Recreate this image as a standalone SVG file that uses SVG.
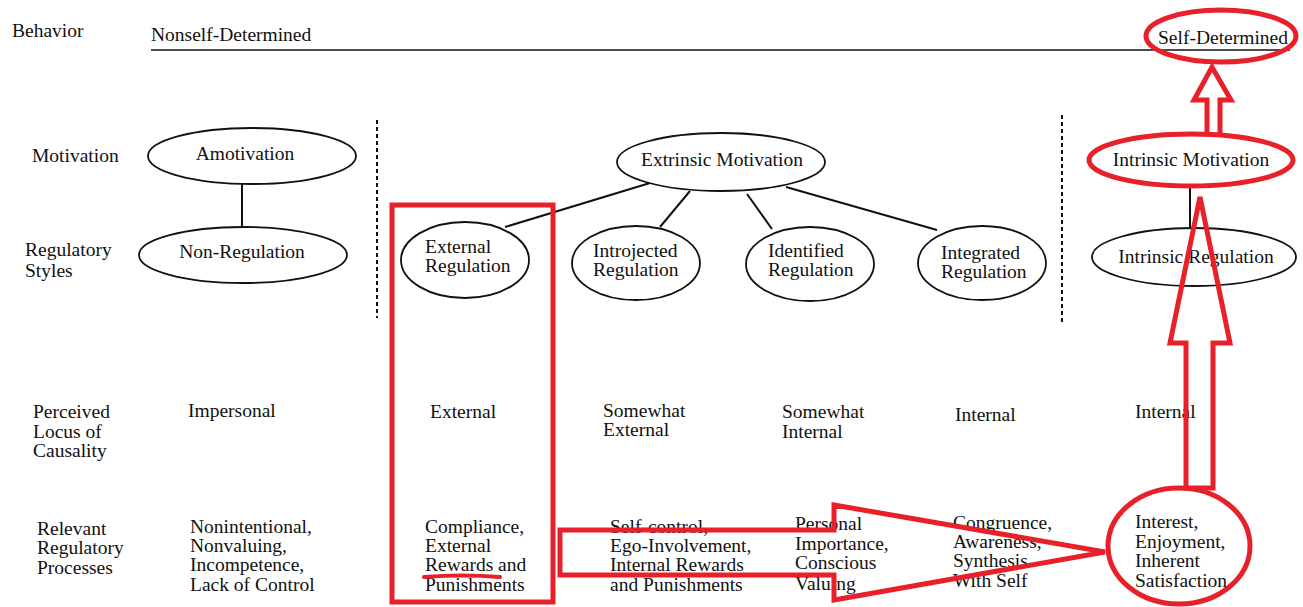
<svg xmlns="http://www.w3.org/2000/svg" width="1303" height="607" viewBox="0 0 1303 607">
  <style>
    text { font-family: "Liberation Serif", "Times New Roman", serif; font-size: 19.5px; fill: #111; }
    .c { text-anchor: middle; }
    .node { fill: #fff; stroke: #111; stroke-width: 1.8; }
    .link { stroke: #111; stroke-width: 2; fill: none; }
    .dash { stroke: #111; stroke-width: 2; stroke-dasharray: 4 3; fill: none; }
    .hl { fill: none; stroke: #e8202a; stroke-width: 5; stroke-linejoin: miter; }
  </style>

  <!-- row headings -->
  <g id="headings">
    <text x="12" y="37">Behavior</text>
    <text x="32" y="162">Motivation</text>
    <text x="25" y="256">Regulatory</text>
    <text x="25" y="277">Styles</text>
    <text x="33" y="418">Perceived</text>
    <text x="33" y="438">Locus of</text>
    <text x="33" y="457">Causality</text>
    <text x="37" y="535">Relevant</text>
    <text x="37" y="554">Regulatory</text>
    <text x="37" y="574">Processes</text>
  </g>

  <!-- behaviour continuum -->
  <g id="continuum">
    <text x="151" y="41" font-size="20">Nonself-Determined</text>
    <line x1="151" y1="50" x2="1290" y2="50" stroke="#111" stroke-width="1.6"/>
    <text class="c" x="1223" y="44">Self-Determined</text>
  </g>

  <!-- section dividers -->
  <g id="dividers">
    <line class="dash" x1="377" y1="120" x2="377" y2="318"/>
    <line class="dash" x1="1062" y1="115" x2="1062" y2="324"/>
  </g>

  <!-- connectors -->
  <g id="connectors">
    <line class="link" x1="242" y1="184" x2="242" y2="227"/>
    <line class="link" x1="650" y1="183" x2="505" y2="227"/>
    <line class="link" x1="690" y1="191" x2="660" y2="227"/>
    <line class="link" x1="747" y1="194" x2="772" y2="229"/>
    <line class="link" x1="786" y1="187" x2="937" y2="230"/>
    <line class="link" x1="1190" y1="186" x2="1190" y2="228"/>
  </g>

  <g id="amotivation">
    <ellipse class="node" cx="252" cy="156" rx="104" ry="28"/>
    <text class="c" x="245" y="160">Amotivation</text>
  </g>
  <g id="non-regulation">
    <ellipse class="node" cx="243" cy="255" rx="104" ry="28"/>
    <text class="c" x="242" y="258">Non-Regulation</text>
  </g>
  <g id="extrinsic-motivation">
    <ellipse class="node" cx="721" cy="162" rx="104" ry="29"/>
    <text class="c" x="722" y="166">Extrinsic Motivation</text>
  </g>
  <g id="external-regulation">
    <ellipse class="node" cx="465" cy="260" rx="64" ry="38"/>
    <text x="425" y="253">External</text>
    <text x="425" y="272">Regulation</text>
  </g>
  <g id="introjected-regulation">
    <ellipse class="node" cx="636" cy="263" rx="64" ry="37"/>
    <text x="593" y="257">Introjected</text>
    <text x="593" y="276">Regulation</text>
  </g>
  <g id="identified-regulation">
    <ellipse class="node" cx="810" cy="264" rx="64" ry="37"/>
    <text x="768" y="257">Identified</text>
    <text x="768" y="276">Regulation</text>
  </g>
  <g id="integrated-regulation">
    <ellipse class="node" cx="982" cy="263" rx="64" ry="37"/>
    <text x="941" y="259">Integrated</text>
    <text x="941" y="278">Regulation</text>
  </g>
  <g id="intrinsic-motivation">
    <ellipse cx="1191" cy="160" rx="104" ry="27" fill="#fff" stroke="none"/>
    <text class="c" x="1191" y="166">Intrinsic Motivation</text>
  </g>
  <g id="intrinsic-regulation">
    <ellipse class="node" cx="1194" cy="257" rx="102" ry="29"/>
    <text class="c" x="1196" y="263">Intrinsic Regulation</text>
  </g>

  <!-- perceived locus of causality -->
  <g id="locus">
    <text x="188" y="417">Impersonal</text>
    <text x="430" y="418">External</text>
    <text x="603" y="417">Somewhat</text>
    <text x="603" y="436">External</text>
    <text x="782" y="418">Somewhat</text>
    <text x="782" y="438">Internal</text>
    <text x="955" y="421">Internal</text>
    <text x="1135" y="418">Internal</text>
  </g>

  <!-- relevant regulatory processes -->
  <g id="processes">
    <text x="190" y="533">Nonintentional,</text>
    <text x="190" y="552">Nonvaluing,</text>
    <text x="190" y="571">Incompetence,</text>
    <text x="190" y="591">Lack of Control</text>

    <text x="425" y="533">Compliance,</text>
    <text x="425" y="552">External</text>
    <text x="425" y="571">Rewards and</text>
    <text x="425" y="591">Punishments</text>

    <text x="610" y="533">Self-control,</text>
    <text x="610" y="552">Ego-Involvement,</text>
    <text x="610" y="571">Internal Rewards</text>
    <text x="610" y="591">and Punishments</text>

    <text x="795" y="530">Personal</text>
    <text x="795" y="550">Importance,</text>
    <text x="795" y="569">Conscious</text>
    <text x="795" y="590">Valuing</text>

    <text x="953" y="529">Congruence,</text>
    <text x="953" y="548">Awareness,</text>
    <text x="953" y="567">Synthesis</text>
    <text x="953" y="587">With Self</text>

    <text x="1135" y="528">Interest,</text>
    <text x="1135" y="548">Enjoyment,</text>
    <text x="1135" y="567">Inherent</text>
    <text x="1135" y="587">Satisfaction</text>
  </g>

  <!-- red highlight overlays -->
  <g id="highlights">
    <ellipse class="hl" cx="1221" cy="36" rx="75" ry="26"/>
    <ellipse class="hl" cx="1191" cy="160" rx="102" ry="26"/>
    <ellipse class="hl" cx="1179" cy="546" rx="71" ry="58"/>
    <rect class="hl" x="392" y="205" width="161" height="397"/>
    <path class="hl" d="M1207,133 V100 H1194 L1212,67 L1231,100 H1220 V133"/>
    <path class="hl" d="M1186,488 V343 H1170 L1200,197 L1230,343 H1213 V488 Z"/>
    <path class="hl" d="M560,530 H834 V505 L1105,552 L834,600 V575 H560 Z"/>
    <path d="M424,577 Q462,574 500,577" fill="none" stroke="#e8202a" stroke-width="4" stroke-linecap="round"/>
  </g>
</svg>
